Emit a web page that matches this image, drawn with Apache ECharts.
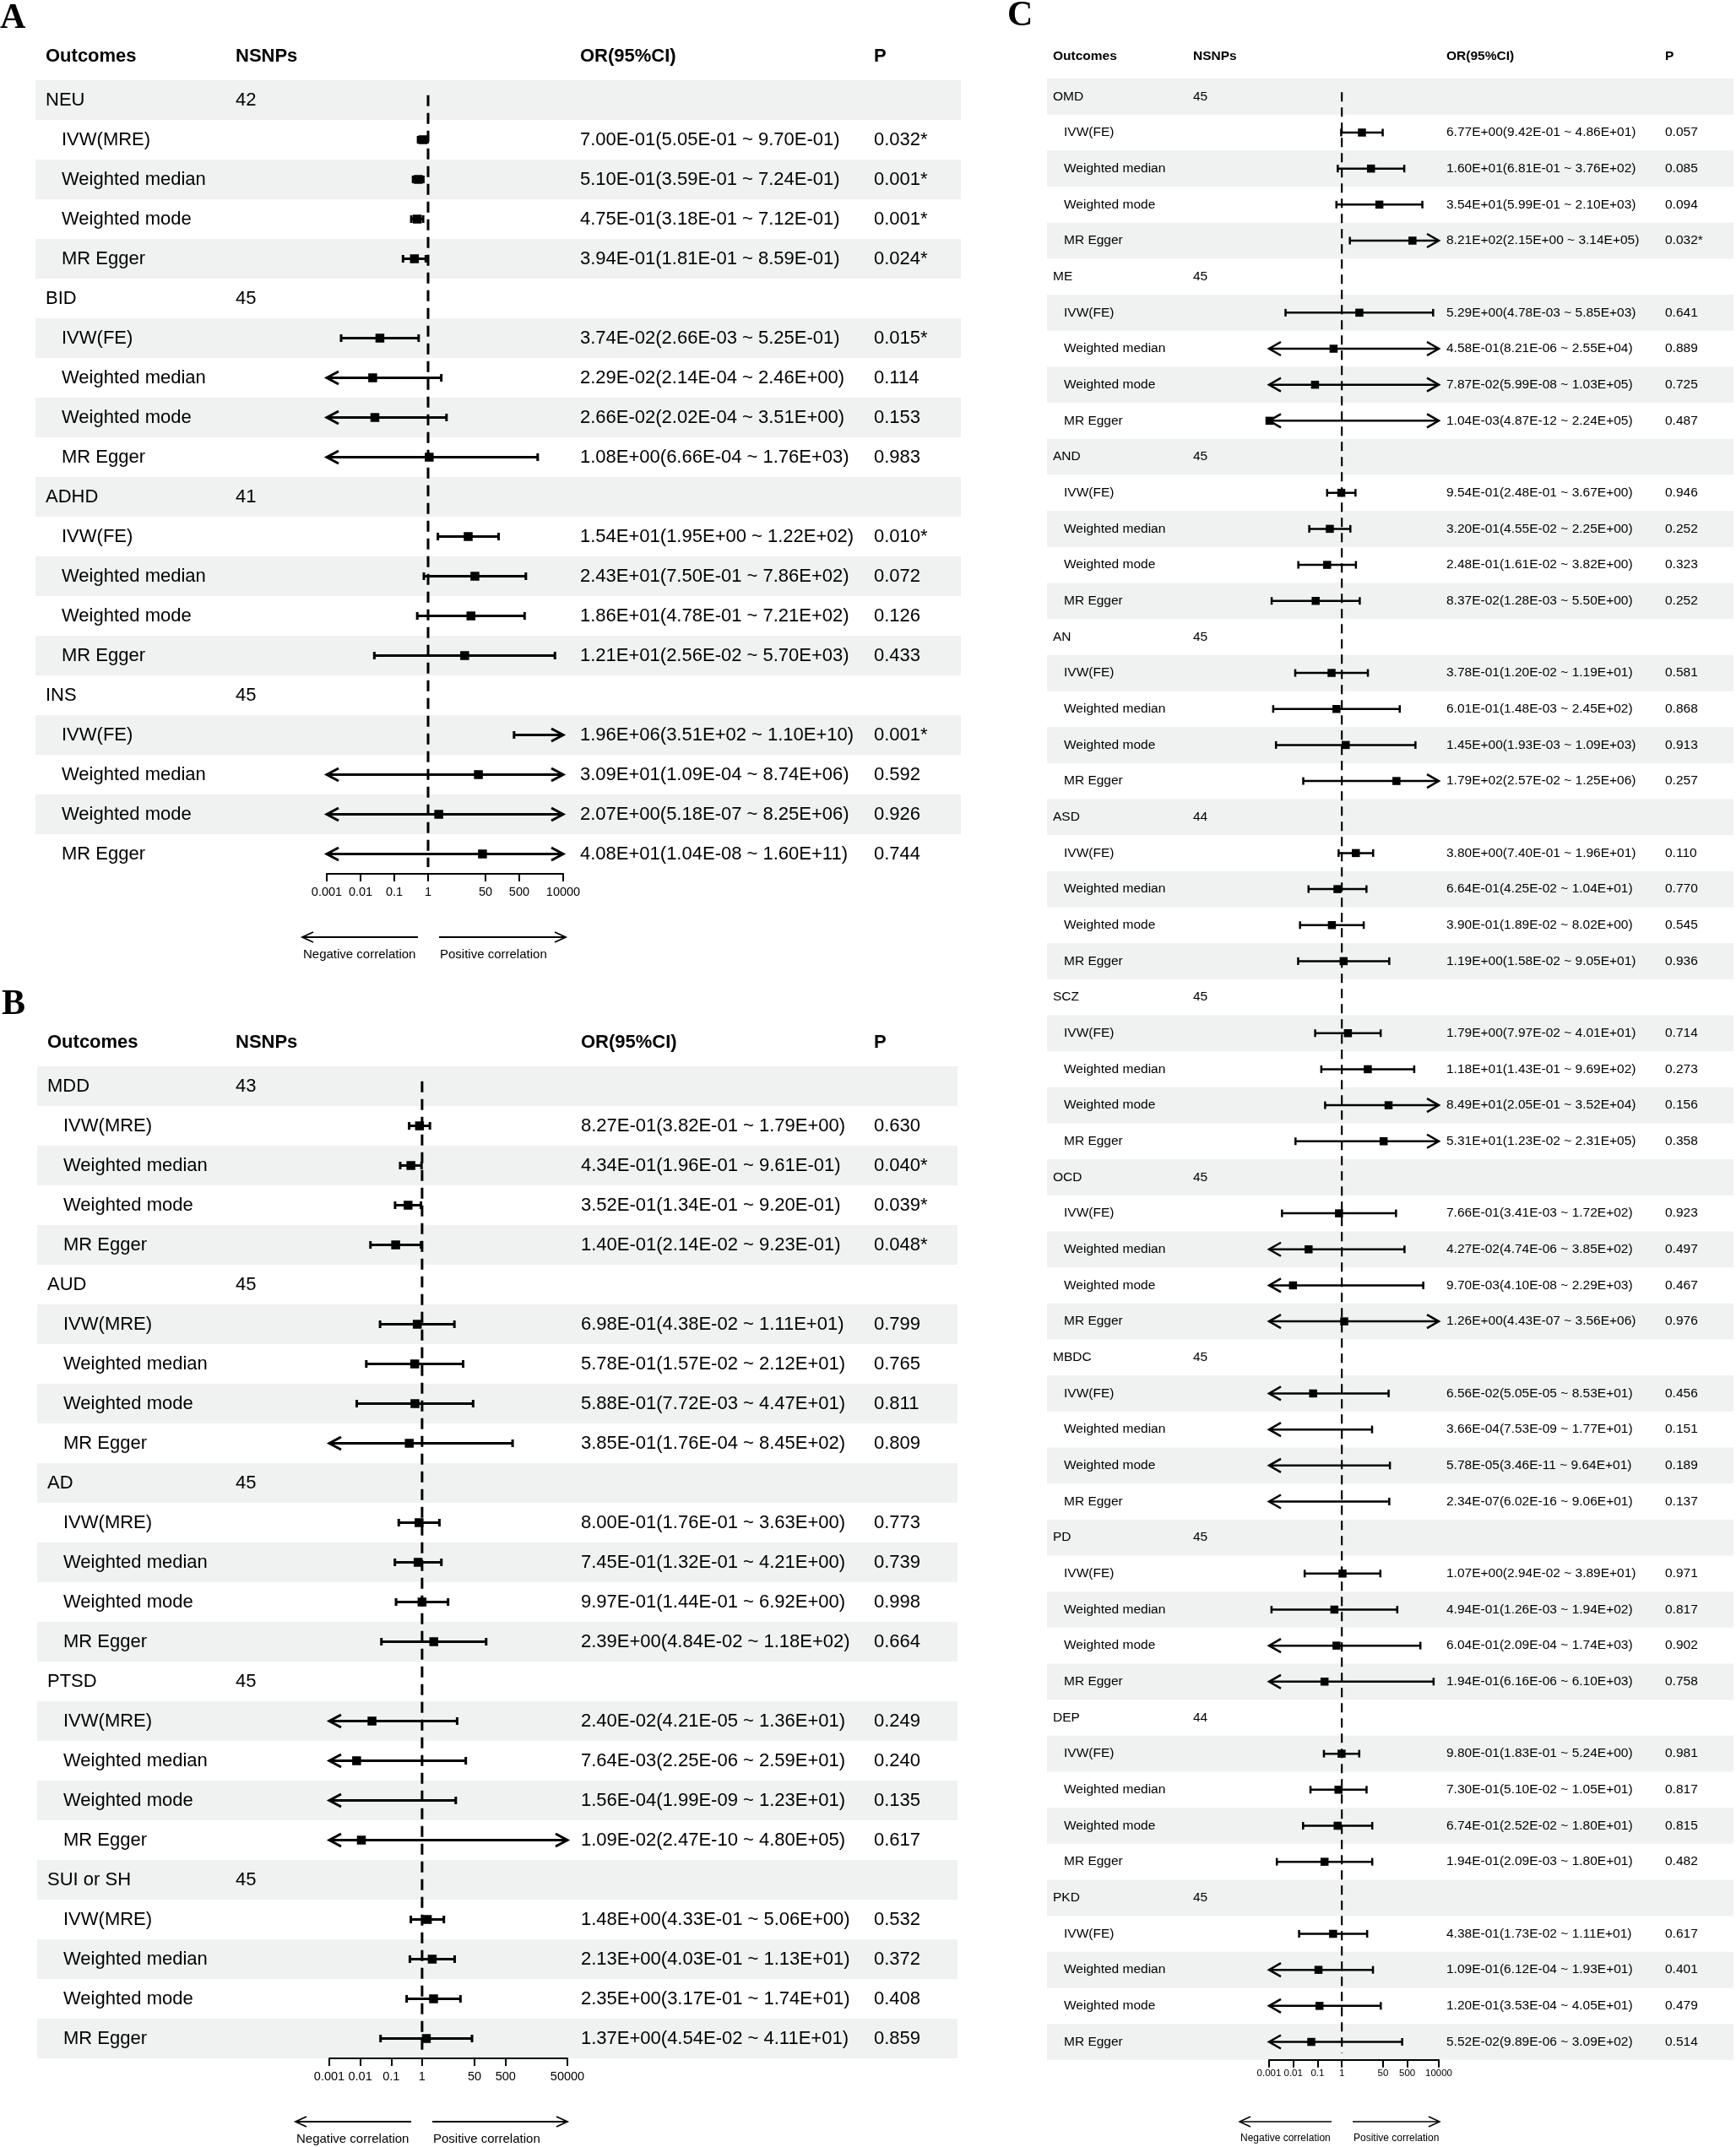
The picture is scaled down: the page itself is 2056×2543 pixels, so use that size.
<!DOCTYPE html>
<html><head><meta charset="utf-8">
<script src="https://cdn.jsdelivr.net/npm/echarts@6/dist/echarts.min.js"></script>
<style>html,body{margin:0;padding:0;background:#fff}#c{width:2056px;height:2543px}</style>
</head><body><div id="c"></div>
<script>
// ---------------- DATA ----------------
const methodNames = ['Weighted median', 'Weighted mode', 'MR Egger'];
const headerLabels = ['Outcomes', 'NSNPs', 'OR(95%CI)', 'P'];

// Panel A
const A_outcomes = ['NEU', 'BID', 'ADHD', 'INS'];
const A_nsnps = [42, 45, 41, 45];
const A_ivw = ['IVW(MRE)', 'IVW(FE)', 'IVW(FE)', 'IVW(FE)'];
const A_or = [7.00E-01,5.10E-01,4.75E-01,3.94E-01, 3.74E-02,2.29E-02,2.66E-02,1.08E+00, 1.54E+01,2.43E+01,1.86E+01,1.21E+01, 1.96E+06,3.09E+01,2.07E+00,4.08E+01];
const A_lo = [5.05E-01,3.59E-01,3.18E-01,1.81E-01, 2.66E-03,2.14E-04,2.02E-04,6.66E-04, 1.95E+00,7.50E-01,4.78E-01,2.56E-02, 3.51E+02,1.09E-04,5.18E-07,1.04E-08];
const A_hi = [9.70E-01,7.24E-01,7.12E-01,8.59E-01, 5.25E-01,2.46E+00,3.51E+00,1.76E+03, 1.22E+02,7.86E+02,7.21E+02,5.70E+03, 1.10E+10,8.74E+06,8.25E+06,1.60E+11];
const A_p = [0.032,0.001,0.001,0.024, 0.015,0.114,0.153,0.983, 0.010,0.072,0.126,0.433, 0.001,0.592,0.926,0.744];
const A_ticks = [0.001, 0.01, 0.1, 1, 50, 500, 10000];
const A_tickLabels = ['0.001', '0.01', '0.1', '1', '50', '500', '10000'];

// Panel B
const B_outcomes = ['MDD', 'AUD', 'AD', 'PTSD', 'SUI or SH'];
const B_nsnps = [43, 45, 45, 45, 45];
const B_ivw = ['IVW(MRE)', 'IVW(MRE)', 'IVW(MRE)', 'IVW(MRE)', 'IVW(MRE)'];
const B_or = [8.27E-01,4.34E-01,3.52E-01,1.40E-01, 6.98E-01,5.78E-01,5.88E-01,3.85E-01, 8.00E-01,7.45E-01,9.97E-01,2.39E+00, 2.40E-02,7.64E-03,1.56E-04,1.09E-02, 1.48E+00,2.13E+00,2.35E+00,1.37E+00];
const B_lo = [3.82E-01,1.96E-01,1.34E-01,2.14E-02, 4.38E-02,1.57E-02,7.72E-03,1.76E-04, 1.76E-01,1.32E-01,1.44E-01,4.84E-02, 4.21E-05,2.25E-06,1.99E-09,2.47E-10, 4.33E-01,4.03E-01,3.17E-01,4.54E-02];
const B_hi = [1.79E+00,9.61E-01,9.20E-01,9.23E-01, 1.11E+01,2.12E+01,4.47E+01,8.45E+02, 3.63E+00,4.21E+00,6.92E+00,1.18E+02, 1.36E+01,2.59E+01,1.23E+01,4.80E+05, 5.06E+00,1.13E+01,1.74E+01,4.11E+01];
const B_p = [0.630,0.040,0.039,0.048, 0.799,0.765,0.811,0.809, 0.773,0.739,0.998,0.664, 0.249,0.240,0.135,0.617, 0.532,0.372,0.408,0.859];
const B_ticks = [0.001, 0.01, 0.1, 1, 50, 500, 50000];
const B_tickLabels = ['0.001', '0.01', '0.1', '1', '50', '500', '50000'];

// Panel C
const C_outcomes = ['OMD', 'ME', 'AND', 'AN', 'ASD', 'SCZ', 'OCD', 'MBDC', 'PD', 'DEP', 'PKD'];
const C_nsnps = [45, 45, 45, 45, 44, 45, 45, 45, 45, 44, 45];
const C_ivw = ['IVW(FE)','IVW(FE)','IVW(FE)','IVW(FE)','IVW(FE)','IVW(FE)','IVW(FE)','IVW(FE)','IVW(FE)','IVW(FE)','IVW(FE)'];
const C_or = [6.77E+00,1.60E+01,3.54E+01,8.21E+02, 5.29E+00,4.58E-01,7.87E-02,1.04E-03, 9.54E-01,3.20E-01,2.48E-01,8.37E-02, 3.78E-01,6.01E-01,1.45E+00,1.79E+02, 3.80E+00,6.64E-01,3.90E-01,1.19E+00, 1.79E+00,1.18E+01,8.49E+01,5.31E+01, 7.66E-01,4.27E-02,9.70E-03,1.26E+00, 6.56E-02,3.66E-04,5.78E-05,2.34E-07, 1.07E+00,4.94E-01,6.04E-01,1.94E-01, 9.80E-01,7.30E-01,6.74E-01,1.94E-01, 4.38E-01,1.09E-01,1.20E-01,5.52E-02];
const C_lo = [9.42E-01,6.81E-01,5.99E-01,2.15E+00, 4.78E-03,8.21E-06,5.99E-08,4.87E-12, 2.48E-01,4.55E-02,1.61E-02,1.28E-03, 1.20E-02,1.48E-03,1.93E-03,2.57E-02, 7.40E-01,4.25E-02,1.89E-02,1.58E-02, 7.97E-02,1.43E-01,2.05E-01,1.23E-02, 3.41E-03,4.74E-06,4.10E-08,4.43E-07, 5.05E-05,7.53E-09,3.46E-11,6.02E-16, 2.94E-02,1.26E-03,2.09E-04,6.16E-06, 1.83E-01,5.10E-02,2.52E-02,2.09E-03, 1.73E-02,6.12E-04,3.53E-04,9.89E-06];
const C_hi = [4.86E+01,3.76E+02,2.10E+03,3.14E+05, 5.85E+03,2.55E+04,1.03E+05,2.24E+05, 3.67E+00,2.25E+00,3.82E+00,5.50E+00, 1.19E+01,2.45E+02,1.09E+03,1.25E+06, 1.96E+01,1.04E+01,8.02E+00,9.05E+01, 4.01E+01,9.69E+02,3.52E+04,2.31E+05, 1.72E+02,3.85E+02,2.29E+03,3.56E+06, 8.53E+01,1.77E+01,9.64E+01,9.06E+01, 3.89E+01,1.94E+02,1.74E+03,6.10E+03, 5.24E+00,1.05E+01,1.80E+01,1.80E+01, 1.11E+01,1.93E+01,4.05E+01,3.09E+02];
const C_p = [0.057,0.085,0.094,0.032, 0.641,0.889,0.725,0.487, 0.946,0.252,0.323,0.252, 0.581,0.868,0.913,0.257, 0.110,0.770,0.545,0.936, 0.714,0.273,0.156,0.358, 0.923,0.497,0.467,0.976, 0.456,0.151,0.189,0.137, 0.971,0.817,0.902,0.758, 0.981,0.817,0.815,0.482, 0.617,0.401,0.479,0.514];
const C_ticks = [0.001, 0.01, 0.1, 1, 50, 500, 10000];
const C_tickLabels = ['0.001', '0.01', '0.1', '1', '50', '500', '10000'];

// ---------------- LAYOUT / STYLE ----------------
const FONT = '"Liberation Sans", Arial, Helvetica, sans-serif';
const SERIF = '"Liberation Serif", "Times New Roman", serif';
const BAND = '#eff2f1';
const INK = '#000';

const panels = [
  { letter: 'A', outcomes: A_outcomes, nsnps: A_nsnps, ivw: A_ivw, or: A_or, lo: A_lo, hi: A_hi, p: A_p, ticks: A_ticks, tickLabels: A_tickLabels,
    L: { gl: 387, gr: 667, top: 95, rowH: 47, band: [42, 1138], cols: [54, 73, 279, 687, 1035], headY: 67, font: 22, tickFont: 14.5, tickMargin: 14,
         lw: 3, cap: 4.5, sq: 10.5, aL: 14, aH: 7.5, dash: [13, 8], dashW: 3, letterXY: [0, 22],
         ann: { y: 1110, ly: 1131, neg: [358, 495], pos: [520, 670], font: 15, lw: 1.8 } } },
  { letter: 'B', outcomes: B_outcomes, nsnps: B_nsnps, ivw: B_ivw, or: B_or, lo: B_lo, hi: B_hi, p: B_p, ticks: B_ticks, tickLabels: B_tickLabels,
    L: { gl: 390, gr: 672, top: 1263, rowH: 47, band: [44, 1134], cols: [56, 75, 279, 688, 1035], headY: 1235, font: 22, tickFont: 14.5, tickMargin: 14,
         lw: 3, cap: 4.5, sq: 10.5, aL: 14, aH: 7.5, dash: [13, 8], dashW: 3, letterXY: [2, 1190],
         ann: { y: 2513, ly: 2534, neg: [350, 487], pos: [512, 672], font: 15, lw: 1.8 } } },
  { letter: 'C', outcomes: C_outcomes, nsnps: C_nsnps, ivw: C_ivw, or: C_or, lo: C_lo, hi: C_hi, p: C_p, ticks: C_ticks, tickLabels: C_tickLabels,
    L: { gl: 1503, gr: 1704, top: 93, rowH: 42.67, band: [1240, 2053], cols: [1247, 1260, 1413, 1713, 1972], headY: 67, font: 15.5, tickFont: 11.5, tickMargin: 10,
         lw: 2.5, cap: 4.5, sq: 9.5, aL: 14, aH: 8, dash: [11, 7], dashW: 2.2, letterXY: [1193, 19],
         ann: { y: 2513, ly: 2533, neg: [1468, 1577], pos: [1602, 1705], font: 12, lw: 1.5 } } }
];

function fmtE(v) {
  const s = v.toExponential(2);
  const parts = s.split('e');
  const sign = parts[1][0] === '-' ? '-' : '+';
  let d = parts[1].replace(/[+-]/, '');
  if (d.length < 2) d = '0' + d;
  return parts[0] + 'E' + sign + d;
}
function fmtP(p) { return p.toFixed(3) + (p < 0.05 ? '*' : ''); }

function buildRows(P) {
  const rows = [];
  P.outcomes.forEach((o, k) => {
    rows.push({ g: true, name: o, n: P.nsnps[k] });
    const names = [P.ivw[k]].concat(methodNames);
    for (let j = 0; j < 4; j++) {
      const q = k * 4 + j;
      rows.push({ g: false, name: names[j], or: P.or[q], lo: P.lo[q], hi: P.hi[q], p: P.p[q] });
    }
  });
  rows.forEach((r, i) => r.row = i);
  return rows;
}

const grids = [], xAxes = [], yAxes = [], series = [], graphics = [];

panels.forEach((P, k) => {
  const L = P.L;
  const rows = buildRows(P);
  const n = rows.length;
  const logTicks = P.ticks.map(v => Math.log10(v));
  const minLog = logTicks[0], maxLog = logTicks[logTicks.length - 1];
  const mRows = rows.filter(r => !r.g);

  grids.push({ left: L.gl, top: L.top, width: L.gr - L.gl, height: n * L.rowH, containLabel: false, outerBoundsMode: 'none', show: false });
  xAxes.push({
    gridIndex: k, type: 'value', min: minLog, max: maxLog, position: 'bottom',
    axisLine: { show: true, onZero: false, lineStyle: { color: INK, width: 2 } },
    axisTick: { show: true, length: 9, lineStyle: { color: INK, width: 2 }, customValues: logTicks },
    axisLabel: { show: true, customValues: logTicks, color: INK, fontSize: L.tickFont, fontFamily: FONT, margin: L.tickMargin,
      formatter: function (val) {
        let best = 0, bd = Infinity;
        logTicks.forEach((t, i) => { const d = Math.abs(t - val); if (d < bd) { bd = d; best = i; } });
        return P.tickLabels[best];
      } },
    splitLine: { show: false }
  });
  yAxes.push({ gridIndex: k, type: 'value', min: -0.5, max: n - 0.5, inverse: true, show: false });

  // bands
  series.push({
    type: 'custom', xAxisIndex: k, yAxisIndex: k, silent: true, z: 0,
    data: rows.filter(r => r.row % 2 === 0).map(r => [0, r.row]),
    renderItem: function (params, api) {
      const i = api.value(1);
      const y0 = api.coord([0, i - 0.5])[1];
      const y1 = api.coord([0, i + 0.5])[1];
      return { type: 'rect', shape: { x: L.band[0], y: y0, width: L.band[1] - L.band[0], height: y1 - y0 }, style: { fill: BAND } };
    }
  });

  // reference dashed line at OR = 1
  series.push({
    type: 'custom', xAxisIndex: k, yAxisIndex: k, silent: true, z: 2,
    data: [[0, 0]],
    renderItem: function (params, api) {
      const x = api.coord([0, 0])[0];
      const y0 = api.coord([0, -0.12])[1];
      const y1 = api.coord([0, n - 0.5])[1] - 8;
      return { type: 'line', shape: { x1: x, y1: y0, x2: x, y2: y1 }, style: { stroke: INK, lineWidth: L.dashW, lineDash: L.dash } };
    }
  });

  // confidence intervals
  series.push({
    type: 'custom', xAxisIndex: k, yAxisIndex: k, silent: true, z: 3,
    data: mRows.map(r => [0, r.row]),
    renderItem: function (params, api) {
      const r = mRows[params.dataIndex];
      const y = api.coord([0, r.row])[1];
      const xL = api.coord([minLog, r.row])[0];
      const xR = api.coord([maxLog, r.row])[0];
      const lo = Math.log10(r.lo), hi = Math.log10(r.hi);
      const x1 = lo < minLog ? xL : api.coord([lo, r.row])[0];
      const x2 = hi > maxLog ? xR : api.coord([hi, r.row])[0];
      const st = { stroke: INK, lineWidth: L.lw, lineCap: 'butt', lineJoin: 'miter' };
      const ch = [{ type: 'line', shape: { x1: x1, y1: y, x2: x2, y2: y }, style: st }];
      if (lo < minLog) ch.push({ type: 'polyline', shape: { points: [[xL + L.aL, y - L.aH], [xL, y], [xL + L.aL, y + L.aH]] }, style: Object.assign({ fill: null }, st) });
      else ch.push({ type: 'line', shape: { x1: x1, y1: y - L.cap, x2: x1, y2: y + L.cap }, style: st });
      if (hi > maxLog) ch.push({ type: 'polyline', shape: { points: [[xR - L.aL, y - L.aH], [xR, y], [xR - L.aL, y + L.aH]] }, style: Object.assign({ fill: null }, st) });
      else ch.push({ type: 'line', shape: { x1: x2, y1: y - L.cap, x2: x2, y2: y + L.cap }, style: st });
      return { type: 'group', children: ch };
    }
  });

  // point estimates
  series.push({
    type: 'scatter', xAxisIndex: k, yAxisIndex: k, silent: true, z: 4,
    symbol: 'rect', symbolSize: L.sq, itemStyle: { color: INK, opacity: 1 },
    data: mRows.filter(r => Math.log10(r.or) >= minLog && Math.log10(r.or) <= maxLog).map(r => [Math.log10(r.or), r.row])
  });

  // table text
  series.push({
    type: 'custom', xAxisIndex: k, yAxisIndex: k, silent: true, z: 5,
    data: rows.map(r => [0, r.row]),
    renderItem: function (params, api) {
      const r = rows[params.dataIndex];
      const y = api.coord([0, r.row])[1];
      const font = L.font + 'px ' + FONT;
      const t = (x, s) => ({ type: 'text', x: x, y: y, style: { text: s, font: font, fill: INK, align: 'left', verticalAlign: 'middle', textAlign: 'left', textVerticalAlign: 'middle' } });
      const ch = r.g
        ? [t(L.cols[0], r.name), t(L.cols[2], String(r.n))]
        : [t(L.cols[1], r.name), t(L.cols[3], fmtE(r.or) + '(' + fmtE(r.lo) + ' ~ ' + fmtE(r.hi) + ')'), t(L.cols[4], fmtP(r.p))];
      return { type: 'group', children: ch };
    }
  });

  // headers
  const hx = [L.cols[0], L.cols[2], L.cols[3], L.cols[4]];
  headerLabels.forEach((h, i) => {
    graphics.push({ type: 'text', x: hx[i], y: L.headY, silent: true,
      style: { text: h, font: 'bold ' + L.font + 'px ' + FONT, fill: INK, textAlign: 'left', textVerticalAlign: 'middle' } });
  });
  // panel letter
  graphics.push({ type: 'text', x: L.letterXY[0], y: L.letterXY[1], silent: true,
    style: { text: P.letter, font: 'bold 42px ' + SERIF, fill: INK, textAlign: 'left', textVerticalAlign: 'middle' } });

  // correlation arrows
  const A = L.ann;
  const ast = { stroke: INK, lineWidth: A.lw, fill: null };
  graphics.push({ type: 'line', silent: true, shape: { x1: A.neg[0], y1: A.y, x2: A.neg[1], y2: A.y }, style: ast });
  graphics.push({ type: 'polyline', silent: true, shape: { points: [[A.neg[0] + 13, A.y - 6], [A.neg[0], A.y], [A.neg[0] + 13, A.y + 6]] }, style: ast });
  graphics.push({ type: 'line', silent: true, shape: { x1: A.pos[0], y1: A.y, x2: A.pos[1], y2: A.y }, style: ast });
  graphics.push({ type: 'polyline', silent: true, shape: { points: [[A.pos[1] - 13, A.y - 6], [A.pos[1], A.y], [A.pos[1] - 13, A.y + 6]] }, style: ast });
  graphics.push({ type: 'text', x: A.neg[0] + 1, y: A.ly, silent: true,
    style: { text: 'Negative correlation', font: A.font + 'px ' + FONT, fill: INK, textAlign: 'left', textVerticalAlign: 'middle' } });
  graphics.push({ type: 'text', x: A.pos[0] + 1, y: A.ly, silent: true,
    style: { text: 'Positive correlation', font: A.font + 'px ' + FONT, fill: INK, textAlign: 'left', textVerticalAlign: 'middle' } });
});

const chart = echarts.init(document.getElementById('c'), null, { renderer: 'canvas', width: 2056, height: 2543 });
chart.setOption({
  animation: false,
  backgroundColor: '#fff',
  grid: grids, xAxis: xAxes, yAxis: yAxes, series: series,
  graphic: { elements: graphics }
});
</script>
</body></html>
